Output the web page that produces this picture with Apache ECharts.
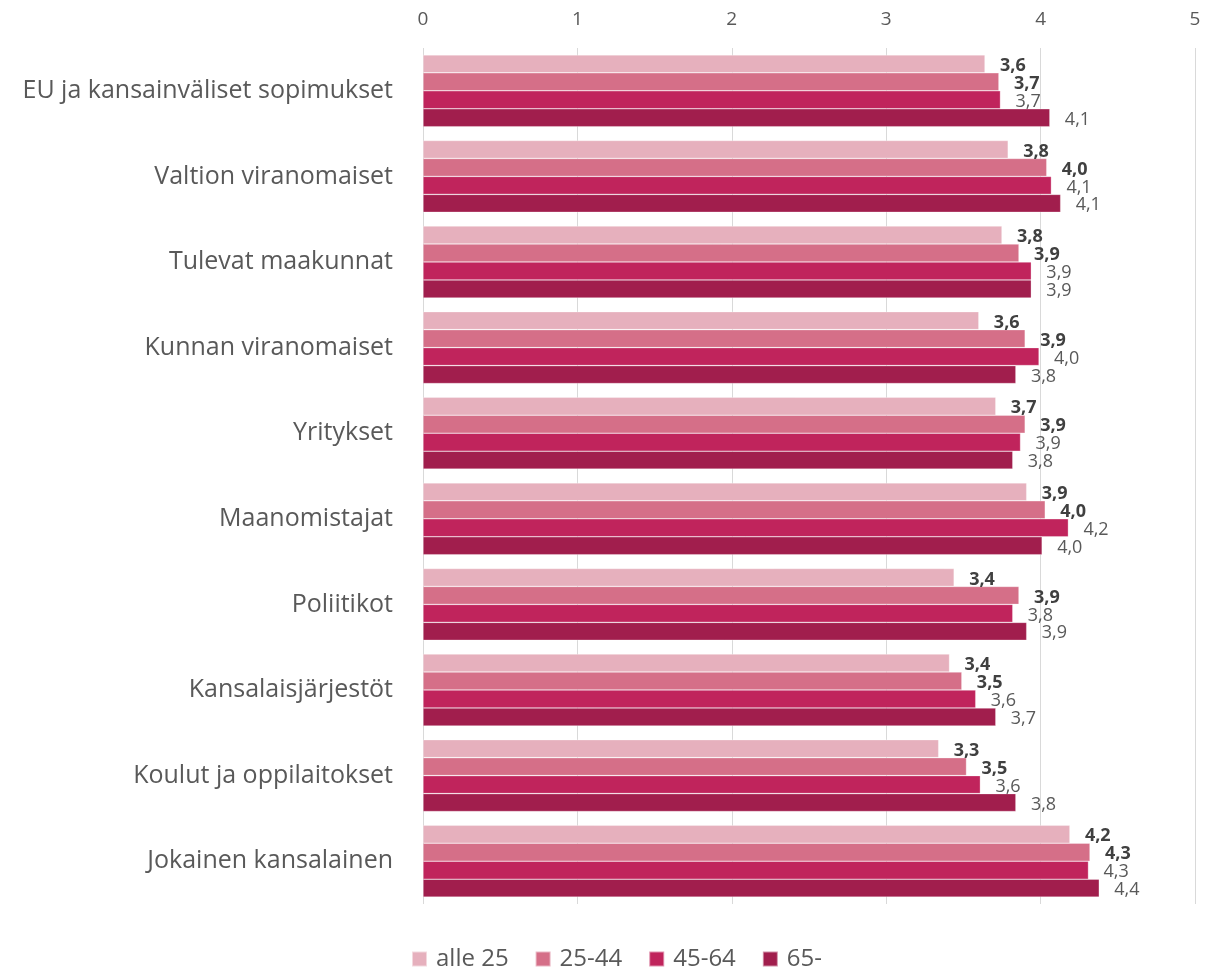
<!DOCTYPE html>
<html>
<head>
<meta charset="utf-8">
<script src="https://cdn.jsdelivr.net/npm/echarts@6/dist/echarts.min.js"></script>
<style>
html,body{margin:0;padding:0;background:#fff;}
#chart{width:1223px;height:974px;}
</style>
</head>
<body>
<div id="chart"></div>
<script>
const categories = [
  "EU ja kansainväliset sopimukset",
  "Valtion viranomaiset",
  "Tulevat maakunnat",
  "Kunnan viranomaiset",
  "Yritykset",
  "Maanomistajat",
  "Poliitikot",
  "Kansalaisjärjestöt",
  "Koulut ja oppilaitokset",
  "Jokainen kansalainen"
];
const seriesNames = ["alle 25", "25-44", "45-64", "65-"];
const alle25 = [3.64, 3.79, 3.75, 3.60, 3.71, 3.91, 3.44, 3.41, 3.34, 4.19];
const age25_44 = [3.73, 4.04, 3.86, 3.90, 3.90, 4.03, 3.86, 3.49, 3.52, 4.32];
const age45_64 = [3.74, 4.07, 3.94, 3.99, 3.87, 4.18, 3.82, 3.58, 3.61, 4.31];
const age65 = [4.06, 4.13, 3.94, 3.84, 3.82, 4.01, 3.91, 3.71, 3.84, 4.38];
const xTicks = [0, 1, 2, 3, 4, 5];

const colors = ["#e6b0bd", "#d56f88", "#c0245c", "#a11e4d"];
const fontFam = "'Open Sans', sans-serif";
const fmt = p => p.value.toFixed(1).replace('.', ',');

const dataSets = [alle25, age25_44, age45_64, age65];
const series = dataSets.map((d, i) => ({
  name: seriesNames[i],
  type: 'bar',
  data: d,
  barGap: '0%',
  barCategoryGap: '16%',
  itemStyle: { color: colors[i], borderColor: 'rgba(255,255,255,0.5)', borderWidth: 0.6 },
  label: {
    show: true,
    position: 'right',
    distance: 15,
    offset: [0, 2],
    formatter: fmt,
    fontFamily: fontFam,
    fontSize: 18,
    fontWeight: i < 2 ? 'bold' : 'normal',
    color: i < 2 ? '#404040' : '#595959'
  }
}));

const chart = echarts.init(document.getElementById('chart'));
chart.setOption({
  animation: false,
  color: colors,
  grid: { left: 423, right: 28, top: 48, bottom: 70, containLabel: false },
  xAxis: {
    type: 'value',
    position: 'top',
    min: xTicks[0],
    max: xTicks[xTicks.length - 1],
    interval: 1,
    axisLine: { show: false },
    axisTick: { show: false },
    axisLabel: { fontFamily: fontFam, fontSize: 19, color: '#595959', margin: 19 },
    splitLine: { show: true, lineStyle: { color: '#d9d9d9', width: 1 } }
  },
  yAxis: {
    type: 'category',
    data: categories,
    inverse: true,
    axisLine: { show: false },
    axisTick: { show: false },
    axisLabel: { fontFamily: fontFam, fontSize: 25, color: '#595959', margin: 30 }
  },
  legend: {
    left: 411,
    top: 947,
    padding: 0,
    itemWidth: 15,
    itemHeight: 15,
    itemGap: 26,
    icon: 'rect',
    textStyle: { fontFamily: fontFam, fontSize: 24, color: '#595959', padding: [0, 0, 0, 4] },
    data: seriesNames
  },
  series: series
});
</script>
</body>
</html>
